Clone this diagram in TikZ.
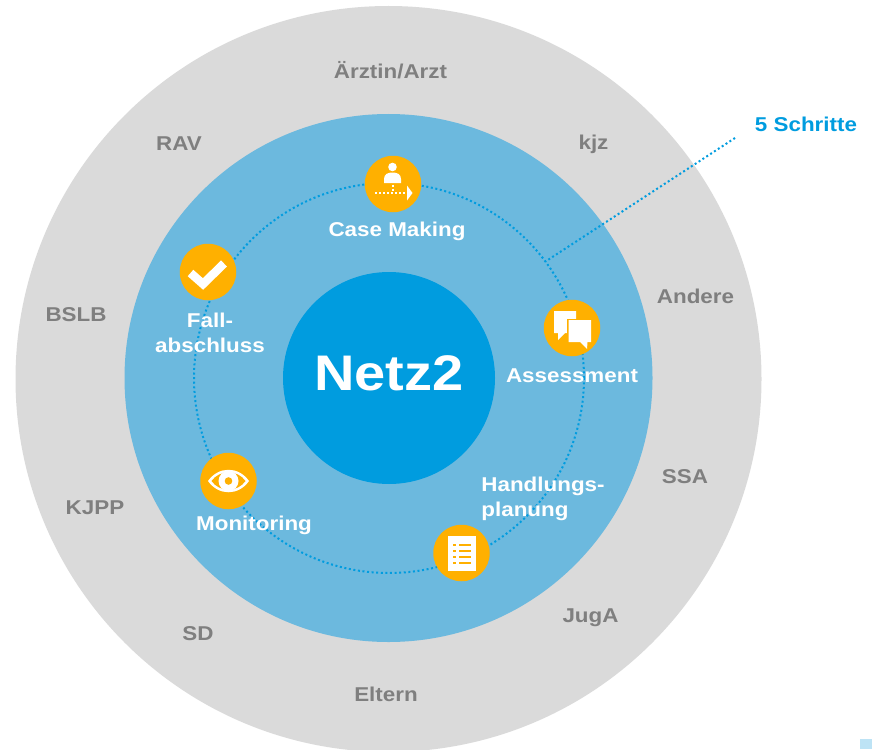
\documentclass[tikz,border=0pt]{standalone}
\usepackage{fontspec}
\usetikzlibrary{calc}
\setmainfont[FakeStretch=1.12]{Liberation Sans}
\definecolor{outergray}{HTML}{DADADA}
\definecolor{ringblue}{HTML}{6CB9DE}
\definecolor{coreblue}{HTML}{009CDF}
\definecolor{iconorange}{HTML}{FFB000}
\definecolor{labelgray}{HTML}{7F7F7F}
\definecolor{cornerblue}{HTML}{BDE3F5}
\tikzset{
  disc/.style={circle,inner sep=0pt,minimum size=#1},
  iconball/.style={circle,inner sep=0pt,minimum size=56.5pt,fill=iconorange},
  partner/.style={font=\bfseries\fontsize{20}{22}\selectfont,text=labelgray,inner sep=0pt},
  steplabel/.style={font=\bfseries\fontsize{20}{25}\selectfont,text=white,inner sep=0pt,align=center},
  dotline/.style={draw=coreblue,line width=2pt,dash pattern=on 2pt off 2.6pt},
  glyph/.style={fill=white,draw=none}
}
\begin{document}
\begin{tikzpicture}[x=1pt,y=-1pt]
\useasboundingbox (0,0) rectangle (872,749);
\clip (0,0) rectangle (872,749);
\node[disc=746pt,fill=outergray] (outer) at (388.5,379) {};
\node[disc=528pt,fill=ringblue] (ring) at (388.5,378) {};
\node[disc=390pt,dotline] (path) at (389,378) {};
\node[disc=212pt,fill=coreblue] (core) at (389,378) {};
\node[font=\bfseries\fontsize{50}{55}\selectfont,text=white,inner sep=0pt] (netz) at (389,373) {Netz2};

% partners
\node[partner] (p1) at (390.5,70) {Ärztin/Arzt};
\node[partner] (p2) at (179,143.5) {RAV};
\node[partner] (p3) at (593.5,144) {kjz};
\node[partner] (p4) at (695.5,296) {Andere};
\node[partner] (p5) at (76,315) {BSLB};
\node[partner] (p6) at (685,477) {SSA};
\node[partner] (p7) at (95,508) {KJPP};
\node[partner] (p8) at (590.5,618) {JugA};
\node[partner] (p9) at (198,634) {SD};
\node[partner] (p10) at (386,694) {Eltern};

% five steps callout
\node[font=\bfseries\fontsize{20}{22}\selectfont,text=coreblue,inner sep=0pt] (five) at (806,124) {5 Schritte};
\coordinate (leaderstart) at (735,138);
\coordinate (leaderend) at ($(path)+(156.5,-116.5)$);
\draw[dotline] (leaderstart) -- (leaderend);

% step icons
\node[iconball] (i1) at (393,184) {};
\node[iconball] (i2) at (572,328) {};
\node[iconball] (i3) at (461.5,553) {};
\node[iconball] (i4) at (228.5,481) {};
\node[iconball] (i5) at (208,272) {};

% Case Making icon
\fill[glyph] ($(i1)+(-0.5,-17)$) circle (4.3pt);
\fill[glyph] ($(i1)+(-9,-1)$) -- ($(i1)+(-9,-5)$) .. controls ($(i1)+(-9,-10)$) and ($(i1)+(-5,-11.5)$) .. ($(i1)+(-0.5,-11.5)$) .. controls ($(i1)+(4,-11.5)$) and ($(i1)+(8,-10)$) .. ($(i1)+(8,-5)$) -- ($(i1)+(8,-1)$) -- cycle;
\draw[white,line width=2pt,dash pattern=on 2pt off 2pt] ($(i1)+(-0.5,0.5)$) -- ($(i1)+(-0.5,8)$);
\draw[white,line width=2pt,dash pattern=on 2pt off 2pt] ($(i1)+(-18,9)$) -- ($(i1)+(14,9)$);
\fill[glyph] ($(i1)+(14,1.5)$) -- ($(i1)+(19.5,9)$) -- ($(i1)+(14,16.5)$) -- cycle;

% Assessment icon
\fill[glyph] ($(i2)+(-18,-17)$) -- ($(i2)+(4,-17)$) -- ($(i2)+(4,5)$) -- ($(i2)+(-7,5)$) -- ($(i2)+(-14,12)$) -- ($(i2)+(-14,5)$) -- ($(i2)+(-18,5)$) -- cycle;
\fill[iconorange] ($(i2)+(-5,-9.5)$) rectangle ($(i2)+(20,12)$);
\fill[glyph] ($(i2)+(-3.5,-8)$) -- ($(i2)+(19,-8)$) -- ($(i2)+(19,14)$) -- ($(i2)+(15.5,14)$) -- ($(i2)+(15,21)$) -- ($(i2)+(8,14)$) -- ($(i2)+(-3.5,14)$) -- cycle;

% Plan icon
\fill[glyph] ($(i3)+(-14,-17.5)$) rectangle ($(i3)+(14,17.5)$);
\foreach \yy in {-8.5,-2.5,3.5,9.5}{
  \fill[iconorange] ($(i3)+(-9,\yy-1)$) rectangle ($(i3)+(-6,\yy+1)$);
  \fill[iconorange] ($(i3)+(-3,\yy-1)$) rectangle ($(i3)+(9,\yy+1)$);
}

% Monitoring icon
\fill[glyph] ($(i4)+(-20.5,0)$) .. controls ($(i4)+(-10,-15)$) and ($(i4)+(10,-15)$) .. ($(i4)+(20.5,0)$) .. controls ($(i4)+(10,15)$) and ($(i4)+(-10,15)$) .. cycle;
\fill[iconorange] ($(i4)+(-17,0)$) .. controls ($(i4)+(-9,-11.5)$) and ($(i4)+(9,-11.5)$) .. ($(i4)+(17,0)$) .. controls ($(i4)+(9,11.5)$) and ($(i4)+(-9,11.5)$) .. cycle;
\fill[glyph] (i4) circle (10pt);
\fill[iconorange] (i4) circle (3.8pt);

% Check icon
\draw[white,line width=8.5pt] ($(i5)+(-17.5,1)$) -- ($(i5)+(-5,12)$) -- ($(i5)+(16,-8.5)$);

% step labels
\node[steplabel] (s1) at (397,231) {Case Making};
\node[steplabel] (s2) at (572,376) {Assessment};
\node[steplabel,align=left] (s3) at (543,498.5) {Handlungs-\\planung};
\node[steplabel] (s4) at (254,525) {Monitoring};
\node[steplabel] (s5) at (210,332.5) {Fall-\\abschluss};

% corner mark
\fill[cornerblue] (860,739) rectangle (872,749);
\end{tikzpicture}
\end{document}
